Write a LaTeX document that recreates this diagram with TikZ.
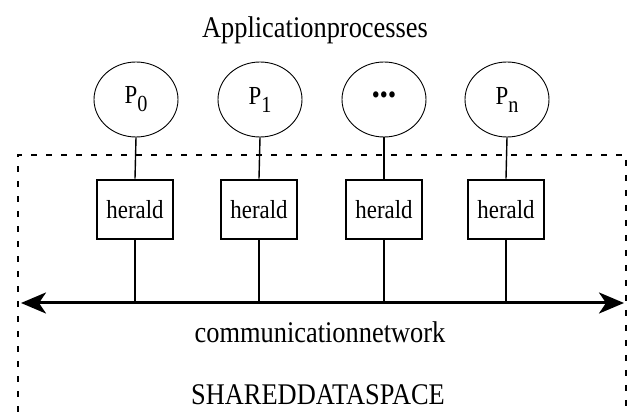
\documentclass[tikz,border=0pt]{standalone}
\usepackage{fontspec}
\setmainfont{Liberation Serif}[FakeStretch=0.88]
\usetikzlibrary{arrows.meta,shapes.geometric}
\begin{document}
\begin{tikzpicture}[x=1pt,y=1pt,
  proc/.style={draw,line width=0.9pt,ellipse,minimum width=84pt,minimum height=75pt,inner sep=0pt,font=\fontsize{26}{28}\selectfont},
  heraldbox/.style={draw,line width=2.6pt,minimum width=76pt,minimum height=59pt,inner sep=0pt,font=\fontsize{26}{28}\selectfont},
  link/.style={line width=1.4pt},
  bigtext/.style={font=\fontsize{30}{32}\selectfont,anchor=base,inner sep=0pt},
  region/.style={line width=1.5pt,dash pattern=on 6pt off 9pt}
]
\useasboundingbox (0,0) rectangle (627,412);
\node[bigtext] (title) at (315,374) {Applicationprocesses};

\newcommand{\sbs}[1]{\raisebox{-8pt}{\fontsize{23}{24}\selectfont #1}}
\node[proc] (p0) at (136,312.5) {P\sbs{0}};
\node[proc] (p1) at (260,312.5) {P\sbs{1}};
\node[proc] (pd) at (384,312.5) {\raisebox{3pt}{•••}};
\node[proc] (pn) at (507,312.5) {P\sbs{n}};

\draw[region] (18,0) -- (18,257) -- (626,257) -- (626,0);

\node[heraldbox] (h0) at (135,202.5) {herald};
\node[heraldbox] (h1) at (259,202.5) {herald};
\node[heraldbox] (hd) at (384,202.5) {herald};
\node[heraldbox] (hn) at (506,202.5) {herald};

\coordinate (L) at (21,109);
\coordinate (R) at (624,109);
\draw[line width=3pt,{Stealth[length=25pt,width=21pt,inset=7pt]}-{Stealth[length=25pt,width=21pt,inset=7pt]}] (L) -- (R);

\foreach \a/\b in {p0/h0,p1/h1,pd/hd,pn/hn}{
  \draw[link] (\a.south) -- (\b.north);
  \draw[link] (\b.south) -- (\b.south |- L);
}

\node[bigtext] (net) at (320,69) {communicationnetwork};
\node[bigtext] (sds) at (318,7) {SHAREDDATASPACE};
\end{tikzpicture}
\end{document}
